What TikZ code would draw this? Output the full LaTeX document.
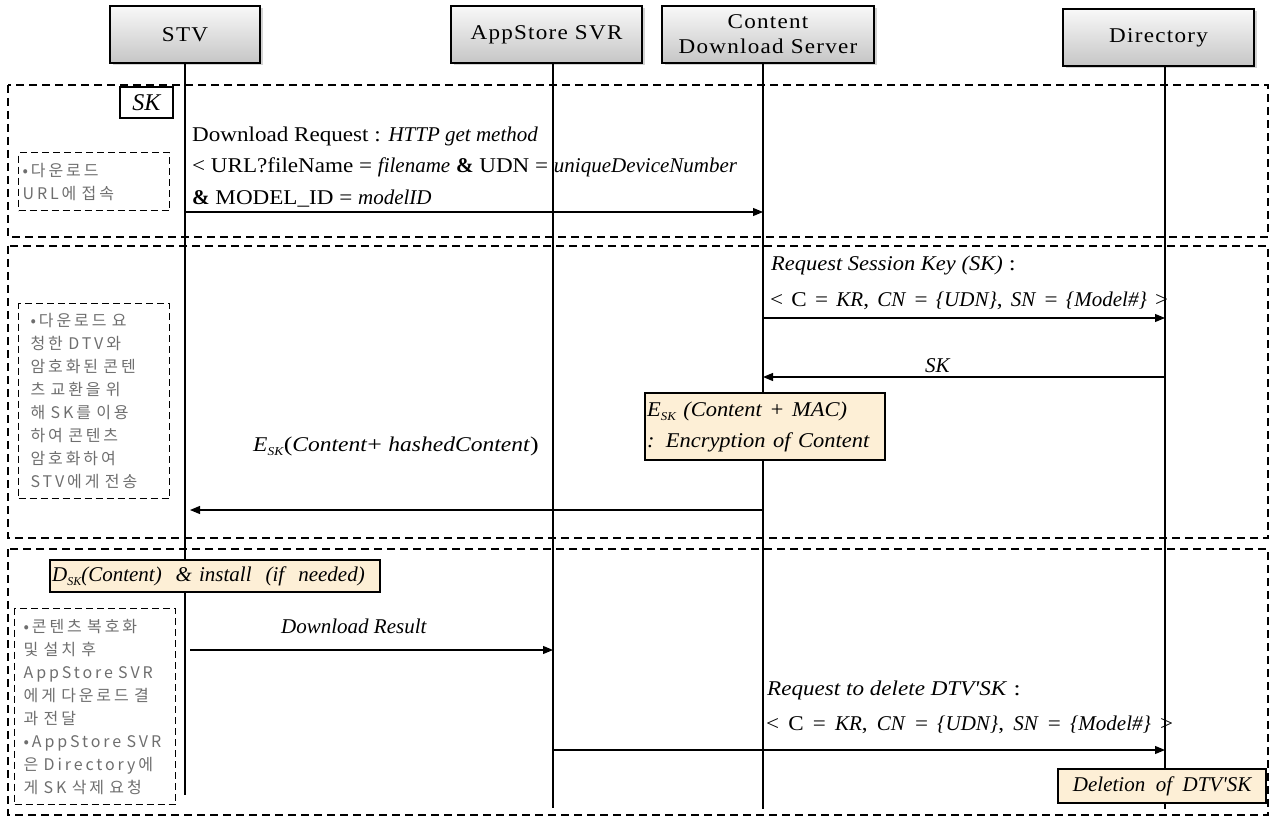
\documentclass[tikz,border=0pt]{standalone}
\usepackage{fontspec}
\usepackage{graphicx}
\setmainfont{Liberation Serif}[UprightFeatures={FakeStretch=1.1}]
\newfontfamily\kr{Noto Sans CJK KR}[LetterSpace=18]
\newfontfamily\hdr{Liberation Serif}[FakeStretch=1.1,LetterSpace=6]
\usetikzlibrary{arrows.meta,shadows}
\definecolor{hlfill}{RGB}{253,239,214}
\definecolor{notegray}{RGB}{110,110,110}
\newcommand\subsk[2]{\textit{#1}\raisebox{-4pt}{\fontsize{12}{12}\selectfont\textit{#2}}}
\newcommand\hwide[2]{\scalebox{#1}[1]{#2}}
\tikzset{
 actor/.style={draw, line width=1.2pt, top color=gray!5, bottom color=gray!45,
   drop shadow={shadow xshift=2.5pt,shadow yshift=-2.5pt,opacity=0.35},
   font=\hdr\fontsize{21}{25}\selectfont, align=center, inner sep=0pt},
 life/.style={line width=1.1pt},
 section/.style={dash pattern=on 8pt off 5pt, line width=1.3pt},
 note/.style={draw, dash pattern=on 7pt off 4pt, line width=1.3pt, font=\kr\fontsize{16}{23}\selectfont,
   text=notegray, align=left, anchor=north west, inner sep=0pt},
 msg/.style={line width=1.1pt, -{Triangle[length=10pt,width=8pt]}},
 lbl/.style={anchor=base west, inner sep=0pt, font=\fontsize{21}{25}\selectfont},
 hl/.style={draw, line width=2.2pt, fill=hlfill, anchor=north west, inner sep=0pt,
   font=\fontsize{21}{25}\selectfont\itshape},
}
\begin{document}
\begin{tikzpicture}[x=1pt,y=-1pt]
\useasboundingbox (0,0) rectangle (1271,818);
% sections
\draw[section] (8,85) rectangle (1268,237);
\draw[section] (8,246) rectangle (1268,538);
\draw[section] (8,549) rectangle (1268,815);
% actors
\node[actor, minimum width=150pt, minimum height=57pt] (stv) at (185,34.5) {STV};
\node[actor, minimum width=191pt, minimum height=57pt] (app) at (546.5,34.5) {AppStore SVR};
\node[actor, minimum width=212pt, minimum height=57pt] (cds) at (768,34.5) {Content\\Download Server};
\node[actor, minimum width=191pt, minimum height=57pt] (dir) at (1158.5,37.5) {Directory};
% lifeline ends
\coordinate (stvEnd) at (185,795);
\coordinate (appEnd) at (553,808);
\coordinate (cdsEnd) at (763,809);
\coordinate (dirEnd) at (1165,809);
\draw[life] (stv.south) -- (stvEnd);
\draw[life] (app.south -| appEnd) -- (appEnd);
\draw[life] (cds.south -| cdsEnd) -- (cdsEnd);
\draw[life] (dir.south -| dirEnd) -- (dirEnd);
% section 1
\node[draw, line width=2pt, minimum width=53pt, minimum height=31pt, inner sep=0pt,
  font=\fontsize{24}{26}\selectfont\itshape] (sk) at (146.5,102.5) {SK};
\node[note, minimum width=151pt, minimum height=58pt, text width=143pt] (n1) at (18,152)
  {•다운로드\\URL에 접속};
\node[lbl] (m1a) at (192,142) {Download Request : \textit{HTTP get method}};
\node[lbl] (m1b) at (192,173) {< URL?fileName = \textit{filename} \textbf{\&} UDN = \textit{uniqueDeviceNumber}};
\node[lbl] (m1c) at (192,205) {\textbf{\&} MODEL\_ID = \textit{modelID}};
\coordinate (a1s) at (185,212);
\coordinate (a1e) at (763,212);
\draw[msg] (a1s) -- (a1e);
% section 2
\node[lbl] (m2a) at (771,270) {\hwide{1.07}{\textit{Request Session Key (SK)} :}};
\node[lbl] (m2b) at (770,306) {\makebox[398pt][s]{< C = \textit{KR}, \textit{CN} = \textit{\{UDN\}}, \textit{SN} = \textit{\{Model\#\}} >}};
\coordinate (a2s) at (763,318);
\coordinate (a2e) at (1165,318);
\draw[msg] (a2s) -- (a2e);
\node[lbl] (m3) at (925,372) {\textit{SK}};
\coordinate (a3s) at (1165,377);
\coordinate (a3e) at (763,377);
\draw[msg] (a3s) -- (a3e);
\node[hl, minimum width=240pt, minimum height=67pt, text width=236pt, align=left] (enc) at (644,392)
  {\hwide{1.07}{\subsk{E}{SK} (\textit{Content} + \textit{MAC})}\\[6pt]\hwide{1.07}{: \textit{Encryption of Content}}};
\node[note, minimum width=151pt, minimum height=195pt, text width=139pt] (n2) at (18,303)
  {\hspace*{6pt}•다운로드 요\\\hspace*{6pt}청한 DTV와\\\hspace*{6pt}암호화된 콘텐\\\hspace*{6pt}츠 교환을 위\\\hspace*{6pt}해 SK를 이용\\\hspace*{6pt}하여 콘텐츠\\\hspace*{6pt}암호화하여\\\hspace*{6pt}STV에게 전송};
\node[lbl] (m4) at (253,451) {\hwide{1.12}{\subsk{E}{SK}(\textit{Content}+ \textit{hashedContent})}};
\coordinate (a4s) at (763,510);
\coordinate (a4e) at (190,510);
\draw[msg] (a4s) -- (a4e);
% section 3
\node[hl, minimum width=330pt, minimum height=32pt, text width=326pt, align=left] (dec) at (49,559)
  {\subsk{D}{SK}(\textit{Content}) \ \textit{\& install} \ (\textit{if} \ \textit{needed})};
\node[note, minimum width=161pt, minimum height=196pt, text width=151pt] (n3) at (14,608)
  {\hspace*{4pt}•콘텐츠 복호화\\\hspace*{4pt}및 설치 후\\\hspace*{4pt}AppStore SVR\\\hspace*{4pt}에게 다운로드 결\\\hspace*{4pt}과 전달\\\hspace*{4pt}•AppStore SVR\\\hspace*{4pt}은 Directory에\\\hspace*{4pt}게 SK 삭제 요청};
\node[lbl] (m5) at (281,633) {\textit{Download Result}};
\coordinate (a5s) at (190,650);
\coordinate (a5e) at (553,650);
\draw[msg] (a5s) -- (a5e);
\node[lbl] (m6a) at (767,695) {\hwide{1.1}{\textit{Request to delete DTV\textquotesingle SK} :}};
\node[lbl] (m6b) at (766,730) {\makebox[407pt][s]{< C = \textit{KR}, \textit{CN} = \textit{\{UDN\}}, \textit{SN} = \textit{\{Model\#\}} >}};
\coordinate (a6s) at (553,750);
\coordinate (a6e) at (1165,750);
\draw[msg] (a6s) -- (a6e);
\node[hl, minimum width=208pt, minimum height=34pt] (del) at (1057,768) {Deletion \ of \ DTV\textquotesingle SK};
\end{tikzpicture}
\end{document}
